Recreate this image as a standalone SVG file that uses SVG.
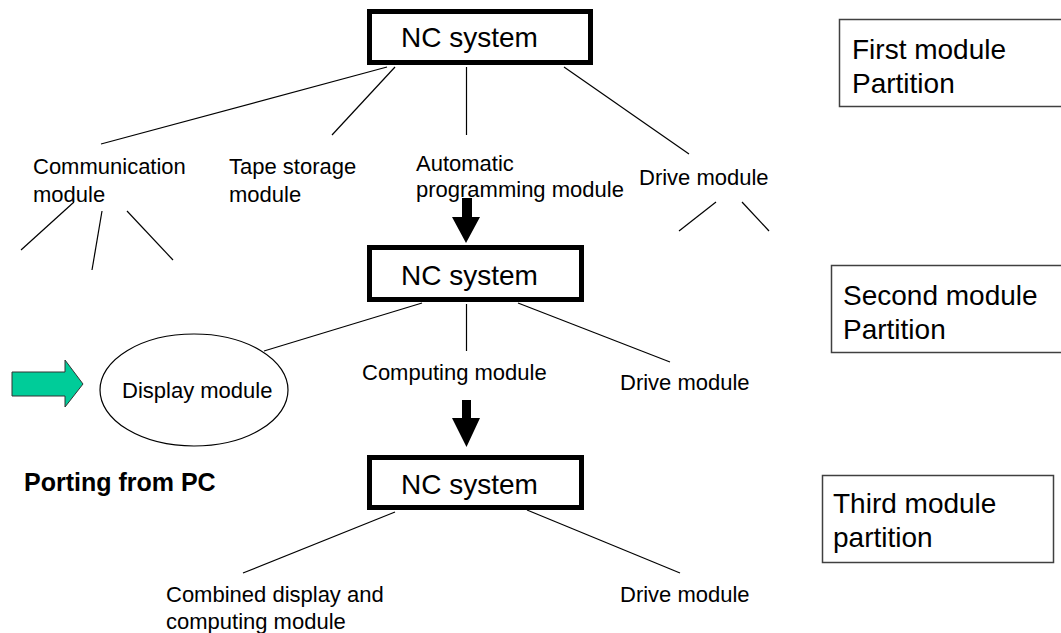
<svg xmlns="http://www.w3.org/2000/svg" width="1061" height="633" viewBox="0 0 1061 633">
<style>
text{font-family:"Liberation Sans",Arial,sans-serif;fill:#000}
.big{font-size:28px}
.lbl{font-size:22px}
.nc{fill:#fff;stroke:#000;stroke-width:5}
.part{fill:#fff;stroke:#404040;stroke-width:1.5}
.c line{stroke:#000;stroke-width:1.2}
</style>
<rect width="1061" height="633" fill="#fff"/>
<g class="c" id="connectors">
<line x1="387" y1="67" x2="101" y2="144"/>
<line x1="395" y1="67" x2="332" y2="135"/>
<line x1="466.5" y1="67" x2="466.5" y2="135"/>
<line x1="564" y1="67" x2="689" y2="154"/>
<line x1="74" y1="202" x2="21" y2="250"/>
<line x1="102" y1="211" x2="92" y2="270"/>
<line x1="127" y1="211" x2="173" y2="260"/>
<line x1="716" y1="202" x2="679" y2="231"/>
<line x1="742" y1="202" x2="769" y2="231"/>
<line x1="422" y1="303" x2="264" y2="351"/>
<line x1="466.5" y1="304" x2="466.5" y2="351"/>
<line x1="518" y1="303" x2="670" y2="362"/>
<line x1="395" y1="512" x2="243" y2="573"/>
<line x1="527" y1="510" x2="680" y2="573"/>
<polygon points="462,198 472,198 472,217 480,217 466,243 452,217 462,217" fill="#000"/>
<polygon points="462,400 471,400 471,418 480,418 466.5,447 452,418 462,418" fill="#000"/>
<polygon points="12,372 65,372 65,360 83,384 65,407 65,396 12,396" fill="#00CC99" stroke="#333" stroke-width="1"/>
</g>
<g id="nc1"><rect class="nc" x="369.5" y="11.5" width="221" height="51"/><text class="big" x="401" y="47">NC system</text></g>
<g id="nc2"><rect class="nc" x="369.5" y="247.5" width="212" height="52"/><text class="big" x="401" y="285">NC system</text></g>
<g id="nc3"><rect class="nc" x="369.5" y="457.5" width="212" height="50"/><text class="big" x="401" y="494">NC system</text></g>
<g id="comm"><text class="lbl" x="33" y="174">Communication</text><text class="lbl" x="33" y="202">module</text></g>
<g id="tape"><text class="lbl" x="229" y="174">Tape storage</text><text class="lbl" x="229" y="202">module</text></g>
<g id="auto"><text class="lbl" x="416" y="171">Automatic</text><text class="lbl" x="416" y="197">programming module</text></g>
<g id="drive1"><text class="lbl" x="639" y="185">Drive module</text></g>
<g id="display"><ellipse cx="194" cy="390" rx="94" ry="56" fill="#fff" stroke="#000" stroke-width="1.2"/><text class="lbl" x="122" y="398">Display module</text></g>
<g id="computing"><text class="lbl" x="362" y="380">Computing module</text></g>
<g id="drive2"><text class="lbl" x="620" y="390">Drive module</text></g>
<g id="porting"><text x="24" y="491" font-size="25" font-weight="bold">Porting from PC</text></g>
<g id="combined"><text class="lbl" x="166" y="602">Combined display and</text><text class="lbl" x="166" y="629">computing module</text></g>
<g id="drive3"><text class="lbl" x="620" y="602">Drive module</text></g>
<g id="p1"><rect class="part" x="839.5" y="19.5" width="1219" height="87"/><text class="big" x="852" y="59">First module</text><text class="big" x="852" y="93">Partition</text></g>
<g id="p2"><rect class="part" x="831.5" y="265.5" width="1227" height="87"/><text class="big" x="843" y="305">Second module</text><text class="big" x="843" y="339">Partition</text></g>
<g id="p3"><rect class="part" x="822.5" y="475.5" width="231" height="87"/><text class="big" x="833" y="513">Third module</text><text class="big" x="833" y="547">partition</text></g>
</svg>
